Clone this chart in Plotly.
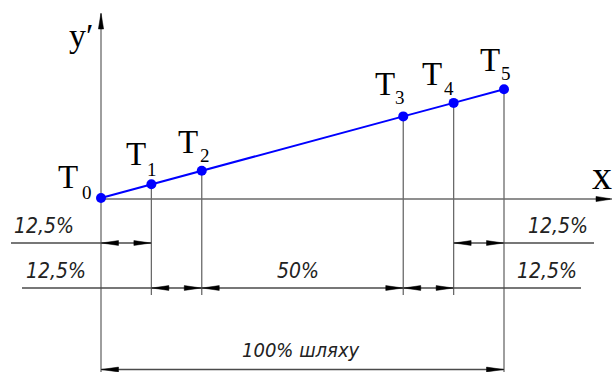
import plotly.graph_objects as go

# ---- data ----
path_pct = [0, 12.5, 25, 75, 87.5, 100]          # position along the path, %
y_prime = [0, 3.4, 6.75, 20.25, 23.6, 27]         # y' value at each point
point_idx = ["0", "1", "2", "3", "4", "5"]        # T subscripts
dim_from = [0, 87.5, 12.5, 25, 75, 0]
dim_to = [12.5, 100, 25, 75, 87.5, 100]
dim_text = ["12,5%", "12,5%", "12,5%", "50%", "12,5%", "100% шляху"]

# ---- layout / styling (pixel geometry) ----
W, H = 614, 372
S = 4.03                 # px per unit
X0PX, Y0PX = 101, 198    # origin pixel
def ux(px):
    return (px - X0PX) / S
def uy(py):
    return (Y0PX - py) / S

GRAY = "#6a6a6a"
DARK = "#4a4a4a"
shapes = []
def line(x0, y0, x1, y1, color=GRAY, w=1.3):
    shapes.append(dict(type="line", xref="x", yref="y", x0=x0, y0=y0, x1=x1, y1=y1,
                       line=dict(color=color, width=w), layer="below"))

def arrow(xt, yt, direction, length=17, half=2.4):
    L, h = length / S, half / S
    if direction == "left":
        p = f"M{xt},{yt} L{xt+L},{yt+h} L{xt+L},{yt-h} Z"
    elif direction == "right":
        p = f"M{xt},{yt} L{xt-L},{yt+h} L{xt-L},{yt-h} Z"
    else:  # up
        p = f"M{xt},{yt} L{xt-h},{yt-L} L{xt+h},{yt-L} Z"
    shapes.append(dict(type="path", xref="x", yref="y", path=p,
                       fillcolor="black", line=dict(color="black", width=0.5)))

# axes
y_axis_y = uy(199)
line(0, uy(372), 0, uy(14))
arrow(0, uy(13), "up", length=16, half=2.6)
line(0, y_axis_y, ux(610), y_axis_y)
arrow(ux(612), y_axis_y, "right", length=16, half=2.6)

# extension lines
ext_bottom = uy(295)
for i, (xp, yp) in enumerate(zip(path_pct, y_prime)):
    if i == 0:
        continue
    bottom = uy(372) if i == len(path_pct) - 1 else ext_bottom
    line(xp, yp, xp, bottom)

# dimension rows
row1, row2, row3 = uy(243), uy(288), uy(369.5)
line(ux(11), row1, path_pct[1], row1, DARK)
line(path_pct[4], row1, ux(594), row1, DARK)
line(ux(22), row2, ux(581), row2, DARK)
line(0, row3, path_pct[-1], row3, DARK)
dim_rows = [row1, row1, row2, row2, row2, row3]
for a, b, r in zip(dim_from, dim_to, dim_rows):
    arrow(a + 0.5 / S, r, "left")
    arrow(b - 0.5 / S, r, "right")

fig = go.Figure()
fig.add_trace(go.Scatter(x=path_pct, y=y_prime, mode="lines+markers",
                         line=dict(color="#0000ff", width=2),
                         marker=dict(color="#0000ff", size=10),
                         hoverinfo="skip", showlegend=False))

annotations = []
serif = "Liberation Serif, Times New Roman, serif"
draft = "Liberation Sans Narrow, DejaVu Sans Condensed, sans-serif"

# T labels: (T center offset, subscript center offset) in px, screen coords
t_off = [(-33, -20), (-15, -29), (-14, -28), (-18, -31), (-22, -28), (-14, -28)]
s_off = [(-14, -7), (1, -16), (3, -16), (-3, -20), (-5, -15), (2, -17)]
for xp, yp, k, to, so in zip(path_pct, y_prime, point_idx, t_off, s_off):
    annotations.append(dict(x=xp, y=yp, xref="x", yref="y", text="T", showarrow=False,
                            xshift=to[0], yshift=-to[1] + 1,
                            font=dict(family=serif, size=33, color="black")))
    annotations.append(dict(x=xp, y=yp, xref="x", yref="y", text=k, showarrow=False,
                            xshift=so[0], yshift=-so[1] - 1,
                            font=dict(family=serif, size=19, color="black")))

annotations.append(dict(x=ux(81), y=uy(35), xref="x", yref="y", text="y′", showarrow=False,
                        font=dict(family=serif, size=34, color="black")))
annotations.append(dict(x=ux(602), y=uy(175), xref="x", yref="y", text="x", showarrow=False,
                        font=dict(family=serif, size=40, color="black")))

# dimension texts
dim_pos = [
    dict(x=0, y=row1, xanchor="right", yanchor="bottom", xshift=-25, yshift=3, size=21),
    dict(x=dim_to[1], y=row1, xanchor="left", yanchor="bottom", xshift=22, yshift=3, size=21),
    dict(x=0, y=row2, xanchor="right", yanchor="bottom", xshift=-13, yshift=3, size=21),
    dict(x=(dim_from[3] + dim_to[3]) / 2, y=row2, xanchor="center", yanchor="bottom", xshift=-5, yshift=3, size=21),
    dict(x=dim_to[4] + 12.5, y=row2, xanchor="left", yanchor="bottom", xshift=11, yshift=3, size=21),
    dict(x=(dim_from[5] + dim_to[5]) / 2, y=row3, xanchor="center", yanchor="bottom", xshift=-2, yshift=6, size=20),
]
for t, p in zip(dim_text, dim_pos):
    annotations.append(dict(x=p["x"], y=p["y"], xref="x", yref="y", text=t, showarrow=False,
                            xanchor=p["xanchor"], yanchor=p["yanchor"],
                            xshift=p["xshift"], yshift=p["yshift"],
                            font=dict(family=draft, size=p["size"], color="#222", style="italic")))

fig.update_layout(
    width=W, height=H, margin=dict(l=0, r=0, t=0, b=0),
    paper_bgcolor="white", plot_bgcolor="white",
    xaxis=dict(range=[ux(0), ux(W)], visible=False, fixedrange=True),
    yaxis=dict(range=[uy(H), uy(0)], visible=False, fixedrange=True),
    shapes=shapes, annotations=annotations, hovermode=False,
)
fig.write_html("out.html", config={"displayModeBar": False},
               post_script="document.body.style.margin='0';document.body.style.overflow='hidden';")
